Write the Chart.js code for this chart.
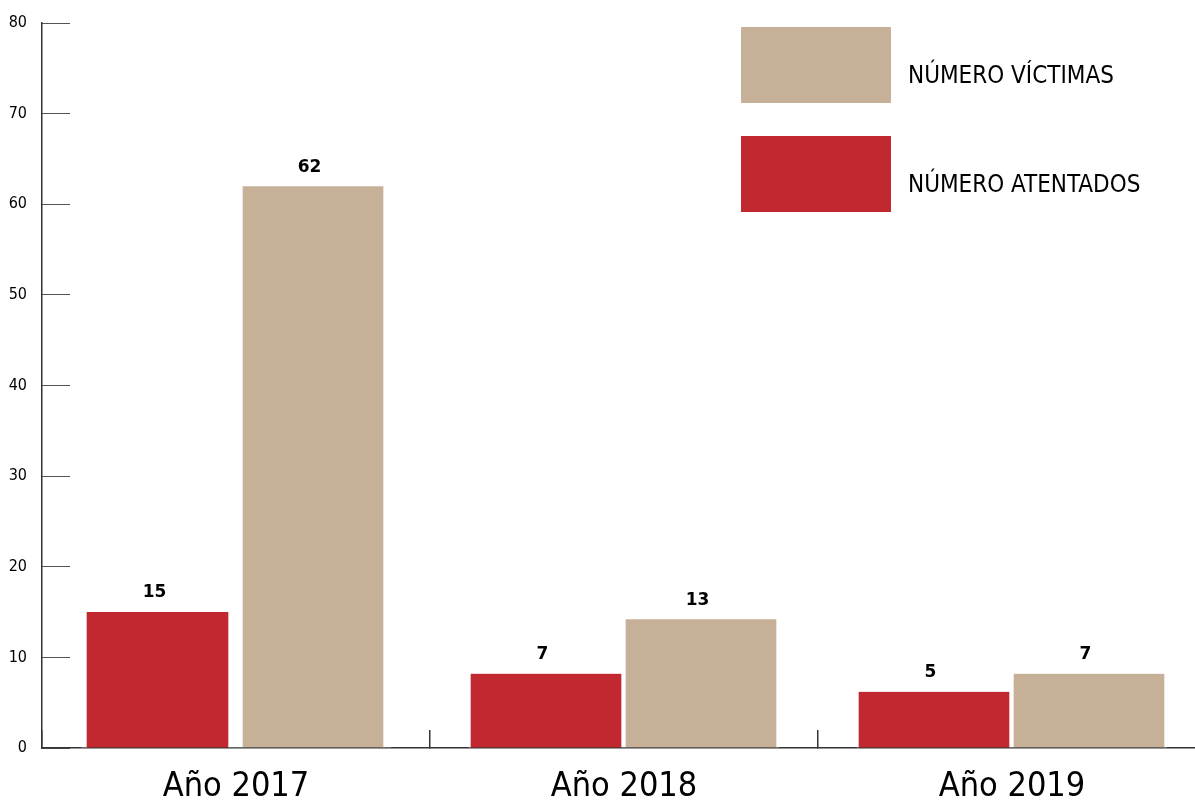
<!DOCTYPE html>
<html>
<head>
<meta charset="utf-8">
<script src="https://cdn.jsdelivr.net/npm/chart.js@4/dist/chart.umd.min.js"></script>
<style>
    body { margin: 0; background: #fff; overflow: hidden; }
    #wrap { position: relative; width: 1206px; height: 802px; }
    .legend-box { position: absolute; left: 741px; width: 150px; height: 76px; }
    .legend-text { position: absolute; left: 908px; font-family: "Liberation Sans Narrow", "DejaVu Sans Condensed", "Roboto", sans-serif;
        font-size: 24px; color: #000; line-height: 30px; white-space: nowrap; }
</style>
</head>
<body>
<div id="wrap">
    <canvas id="chart" width="1206" height="802"></canvas>
    <div id="legend"></div>
</div>
<script>
/*********************  Data  *********************/
var years = ['Año 2017', 'Año 2018', 'Año 2019'];
// bar heights as drawn in the picture
var atentados = [15, 8.2, 6.2];
var victimas = [62, 14.2, 8.2];
// numbers printed above the bars
var atentadosText = ['15', '7', '5'];
var victimasText = ['62', '13', '7'];
var yTicks = [0, 10, 20, 30, 40, 50, 60, 70, 80];

var RED = '#C1282F', TAN = '#C7B098';
var narrow = '"Liberation Sans Narrow", "DejaVu Sans Condensed", Roboto, sans-serif';

// white side borders make the gaps between the bars
function sideBorders(first) {
    return function(c) {
        if (c.dataIndex === 0) return first;
        return {left: 2, right: 3, top: 0, bottom: 0};
    };
}

var valueLabels = {
    id: 'valueLabels',
    afterDatasetsDraw: function(chart) {
        var ctx = chart.ctx;
        ctx.save();
        ctx.font = 'bold 17px "DejaVu Sans", sans-serif';
        ctx.fillStyle = '#000';
        ctx.textAlign = 'center';
        ctx.textBaseline = 'middle';
        chart.data.datasets.forEach(function(ds, i) {
            chart.getDatasetMeta(i).data.forEach(function(bar, j) {
                ctx.fillText(ds.valueText[j], bar.x - 4, bar.y - 19);
            });
        });
        ctx.restore();
    }
};

var ctx = document.getElementById('chart');
var chart = new Chart(ctx, {
    type: 'bar',
    data: {
        labels: years,
        datasets: [{
            label: 'NÚMERO ATENTADOS',
            data: atentados,
            valueText: atentadosText,
            backgroundColor: RED,
            borderColor: '#fff',
            borderWidth: sideBorders({left: 6, right: 8, top: 0, bottom: 0}),
            borderSkipped: 'bottom',
            barThickness: 155
        }, {
            label: 'NÚMERO VÍCTIMAS',
            data: victimas,
            valueText: victimasText,
            backgroundColor: TAN,
            borderColor: '#fff',
            borderWidth: sideBorders({left: 7, right: 8, top: 0, bottom: 0}),
            borderSkipped: 'bottom',
            barThickness: 155
        }]
    },
    plugins: [valueLabels],
    options: {
        responsive: false,
        animation: false,
        layout: { padding: {top: 23, left: 0, right: 0, bottom: 0} },
        plugins: { legend: {display: false}, tooltip: {enabled: false} },
        scales: {
            x: {
                z: 1,
                border: { display: true, color: '#333', width: 1.5 },
                grid: { display: true, drawOnChartArea: false, drawTicks: true, tickLength: -18, color: '#333', lineWidth: 1.5 },
                ticks: { color: '#000', padding: 40, font: {family: narrow, size: 34, lineHeight: 1} },
                afterFit: function(s) { s.height = 54; s.paddingLeft = 0; s.paddingRight = 0; }
            },
            y: {
                z: 1,
                min: 0, max: 80,
                border: { display: true, color: '#333', width: 1.5 },
                grid: { display: true, drawOnChartArea: false, drawTicks: true, tickLength: -28, color: '#555', lineWidth: 1 },
                afterBuildTicks: function(s) { s.ticks = yTicks.map(function(v) { return {value: v}; }); },
                ticks: { color: '#000', padding: 43, font: {family: narrow, size: 16} },
                afterFit: function(s) { s.width = 42; s.paddingTop = 0; s.paddingBottom = 0; }
            }
        }
    }
});

// legend: victims first, then attacks
var legend = document.getElementById('legend');
[[1, 27, 60], [0, 136, 169]].forEach(function(item) {
    var ds = chart.data.datasets[item[0]];
    var box = document.createElement('div');
    box.className = 'legend-box';
    box.style.top = item[1] + 'px';
    box.style.background = ds.backgroundColor;
    legend.appendChild(box);
    var txt = document.createElement('div');
    txt.className = 'legend-text';
    txt.style.top = item[2] + 'px';
    txt.textContent = ds.label;
    legend.appendChild(txt);
});
</script>
</body>
</html>
